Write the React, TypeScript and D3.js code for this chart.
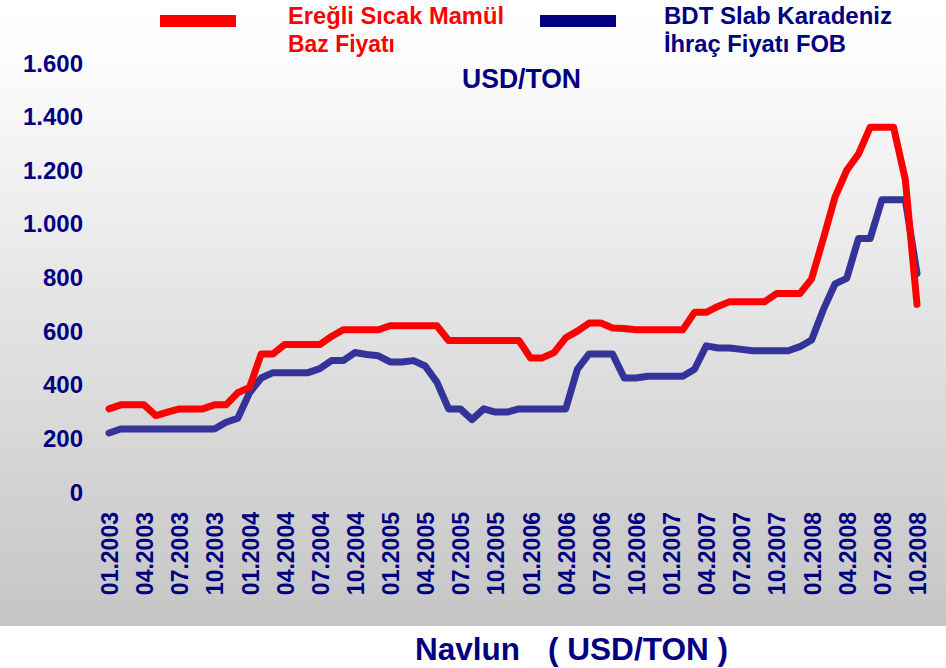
import React from 'react';
import * as d3 from 'd3';

// Month categories 01.2003 .. 10.2008
const months: string[] = [];
for (let yr = 2003; yr <= 2008; yr++) {
  for (let m = 1; m <= 12; m++) {
    if (yr === 2008 && m > 10) break;
    months.push(`${String(m).padStart(2, '0')}.${yr}`);
  }
}

const xTickLabels = [
  '01.2003', '04.2003', '07.2003', '10.2003',
  '01.2004', '04.2004', '07.2004', '10.2004',
  '01.2005', '04.2005', '07.2005', '10.2005',
  '01.2006', '04.2006', '07.2006', '10.2006',
  '01.2007', '04.2007', '07.2007', '10.2007',
  '01.2008', '04.2008', '07.2008', '10.2008',
];

const yTicks = [0, 200, 400, 600, 800, 1000, 1200, 1400, 1600];

// Ereğli Sıcak Mamül Baz Fiyatı (USD/TON)
const eregli = [
  310, 325, 325, 325, 285, 298, 310, 310, 310, 325, 325, 370,
  390, 515, 515, 550, 550, 550, 550, 580, 605, 605, 605, 605,
  620, 620, 620, 620, 620, 565, 565, 565, 565, 565, 565, 565,
  500, 500, 520, 575, 600, 630, 630, 612, 610, 605, 605, 605,
  605, 605, 670, 670, 692, 710, 710, 710, 710, 740, 740, 740,
  795, 945, 1100, 1200, 1260, 1360, 1360, 1360, 1165, 700,
];

// BDT Slab Karadeniz İhraç Fiyatı FOB (USD/TON)
const bdt = [
  220, 235, 235, 235, 235, 235, 235, 235, 235, 235, 260, 275,
  370, 425, 445, 445, 445, 445, 460, 490, 490, 520, 513, 508,
  485, 485, 490, 470, 410, 310, 310, 270, 310, 298, 298, 310,
  310, 310, 310, 310, 458, 515, 515, 515, 425, 425, 432, 432,
  432, 432, 458, 545, 537, 537, 532, 527, 527, 527, 527, 542,
  567, 680, 776, 797, 945, 945, 1090, 1090, 1090, 815,
];

const W = 946;
const H = 668;
const FONT = '"Liberation Sans", Arial, Helvetica, sans-serif';
const NAVY = '#000080';

const locale = d3.formatLocale({ decimal: ',', thousands: '.', grouping: [3], currency: ['', ''] });
const fmt = locale.format(',d');

export default function App() {
  const x = d3.scalePoint<string>().domain(months).range([109, 917]);
  const y = d3.scaleLinear().domain([0, 1600]).range([492, 63]);

  const line = d3
    .line<number>()
    .x((_, i) => x(months[i]) as number)
    .y((d) => y(d));

  return (
    <svg width={W} height={H} style={{ position: 'absolute', left: 0, top: 0 }}>
      <defs>
        <linearGradient id="bg" x1="0" y1="0" x2="0" y2="1">
          <stop offset="0" stopColor="#ffffff" />
          <stop offset="0.08" stopColor="#fdfdfd" />
          <stop offset="1" stopColor="#c5c5c5" />
        </linearGradient>
      </defs>
      <rect x={0} y={0} width={W} height={H} fill="#ffffff" />
      <rect x={0} y={0} width={W} height={626} fill="url(#bg)" />

      {/* Y axis labels */}
      {yTicks.map((v) => (
        <text
          key={v}
          x={83}
          y={y(v)}
          textAnchor="end"
          dominantBaseline="central"
          fontFamily={FONT}
          fontWeight="bold"
          fontSize={24}
          fill={NAVY}
        >
          {fmt(v)}
        </text>
      ))}

      {/* X axis labels */}
      {xTickLabels.map((lab) => (
        <text
          key={lab}
          transform={`translate(${(x(lab) as number) + 1},512) rotate(-90)`}
          textAnchor="end"
          dominantBaseline="central"
          fontFamily={FONT}
          fontWeight="bold"
          fontSize={23}
          fill={NAVY}
        >
          {lab}
        </text>
      ))}

      {/* Lines */}
      <path d={line(bdt) as string} fill="none" stroke="#333399" strokeWidth={7} strokeLinejoin="round" strokeLinecap="round" />
      <path d={line(eregli) as string} fill="none" stroke="#ff0000" strokeWidth={7} strokeLinejoin="round" strokeLinecap="round" />

      {/* Legend */}
      <rect x={160} y={15} width={76} height={12} fill="#ff0000" />
      <text x={288} y={24} fontFamily={FONT} fontWeight="bold" fontSize={23} fill="#ff0000" textLength={216} lengthAdjust="spacingAndGlyphs">
        Ereğli Sıcak Mamül
      </text>
      <text x={288} y={52} fontFamily={FONT} fontWeight="bold" fontSize={23} fill="#ff0000" textLength={107} lengthAdjust="spacingAndGlyphs">
        Baz Fiyatı
      </text>
      <rect x={540} y={15} width={76} height={12} fill={NAVY} />
      <text x={664} y={24} fontFamily={FONT} fontWeight="bold" fontSize={23} fill={NAVY} textLength={228} lengthAdjust="spacingAndGlyphs">
        BDT Slab Karadeniz
      </text>
      <text x={664} y={52} fontFamily={FONT} fontWeight="bold" fontSize={23} fill={NAVY} textLength={182} lengthAdjust="spacingAndGlyphs">
        İhraç Fiyatı FOB
      </text>

      {/* Unit title */}
      <text x={462} y={88} fontFamily={FONT} fontWeight="bold" fontSize={27} fill={NAVY} textLength={119} lengthAdjust="spacingAndGlyphs">
        USD/TON
      </text>

      {/* Bottom caption */}
      <text x={415} y={660} fontFamily={FONT} fontWeight="bold" fontSize={31} fill={NAVY} textLength={105} lengthAdjust="spacingAndGlyphs">
        Navlun
      </text>
      <text x={548} y={660} fontFamily={FONT} fontWeight="bold" fontSize={31} fill={NAVY} textLength={180} lengthAdjust="spacingAndGlyphs">
        ( USD/TON )
      </text>
    </svg>
  );
}
